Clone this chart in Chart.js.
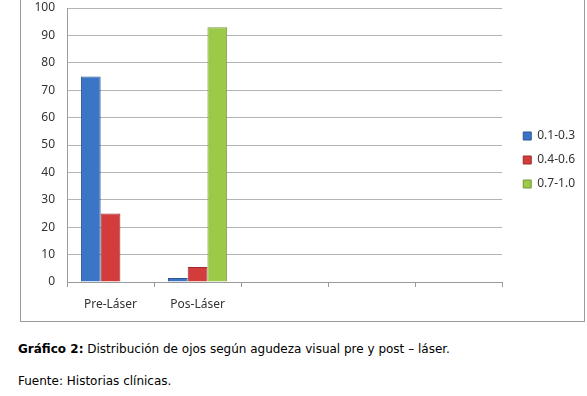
<!DOCTYPE html>
<html>
<head>
<meta charset="utf-8">
<script src="https://cdn.jsdelivr.net/npm/chart.js@4"></script>
<style>
  html, body { margin: 0; padding: 0; background: #fff; }
  body { width: 587px; height: 396px; position: relative; overflow: hidden; }
  #box {
    position: absolute; left: 20px; top: -10px; width: 565px; height: 332px;
    border: 1px solid #9a9a9a; box-sizing: border-box;
  }
  #wrap { position: absolute; left: 20px; top: 0; width: 565px; height: 322px; }
  .cap { position: absolute; left: 18px; font-family: "DejaVu Sans", Verdana, sans-serif; font-size: 12px; color: #000; white-space: nowrap; }
</style>
</head>
<body>
<div id="box"></div>
<div id="wrap"><canvas id="chart"></canvas></div>
<div class="cap" style="top:342px"><b>Gráfico 2:</b> Distribución de ojos según agudeza visual pre y post – láser.</div>
<div class="cap" style="top:374px">Fuente: Historias clínicas.</div>
<script>
// ── DATA ─────────────────────────────
const categories = ["Pre-Láser", "Pos-Láser", "", "", ""];
const seriesNames = ["0.1-0.3", "0.4-0.6", "0.7-1.0"];
const lowValues = [75, 1.5, null, null, null];
const midValues = [25, 5.5, null, null, null];
const highValues = [0, 93, null, null, null];

const fills = ["#3b76c6", "#d23d3b", "#9cc948"];
const edges = ["#2b5796", "#9e2c2a", "#76983a"];

const font = { family: "'Noto Sans', sans-serif", size: 12 };

// nudge the legend without shrinking the plot
const legendShift = {
  id: "legendShift",
  afterLayout(chart) {
    const lg = chart.legend;
    if (!lg) return;
    lg.left += 9; lg.right += 9;
    lg.top -= 5; lg.bottom -= 5;
  }
};

new Chart(document.getElementById("chart"), {
  type: "bar",
  data: {
    labels: categories,
    datasets: [lowValues, midValues, highValues].map((vals, i) => ({
      label: seriesNames[i],
      data: vals,
      backgroundColor: fills[i],
      borderColor: edges[i],
      borderWidth: 1,
      categoryPercentage: 0.68,
      barPercentage: 1.0
    }))
  },
  options: {
    responsive: true,
    maintainAspectRatio: false,
    animation: false,
    layout: { padding: { top: 8, right: 9, left: 0, bottom: 0 } },
    plugins: {
      tooltip: { enabled: false },
      legend: {
        position: "right",
        labels: {
          font: font, color: "#333",
          boxWidth: 8, boxHeight: 8, padding: 12
        }
      }
    },
    scales: {
      x: {
        grid: { offset: true, drawOnChartArea: false, color: "#9a9a9a", tickLength: 5 },
        border: { color: "#9a9a9a" },
        ticks: { font: font, color: "#333", padding: 10 },
        afterFit: s => { s.height = 40; }
      },
      y: {
        min: 0, max: 100,
        ticks: { stepSize: 10, font: font, color: "#333", padding: 12 },
        grid: { color: "#b4b4b4", drawTicks: false },
        border: { color: "#9a9a9a" },
        afterFit: s => { s.width = 47; s.paddingTop = 0; s.paddingBottom = 0; }
      }
    }
  },
  plugins: [legendShift]
});
</script>
</body>
</html>
